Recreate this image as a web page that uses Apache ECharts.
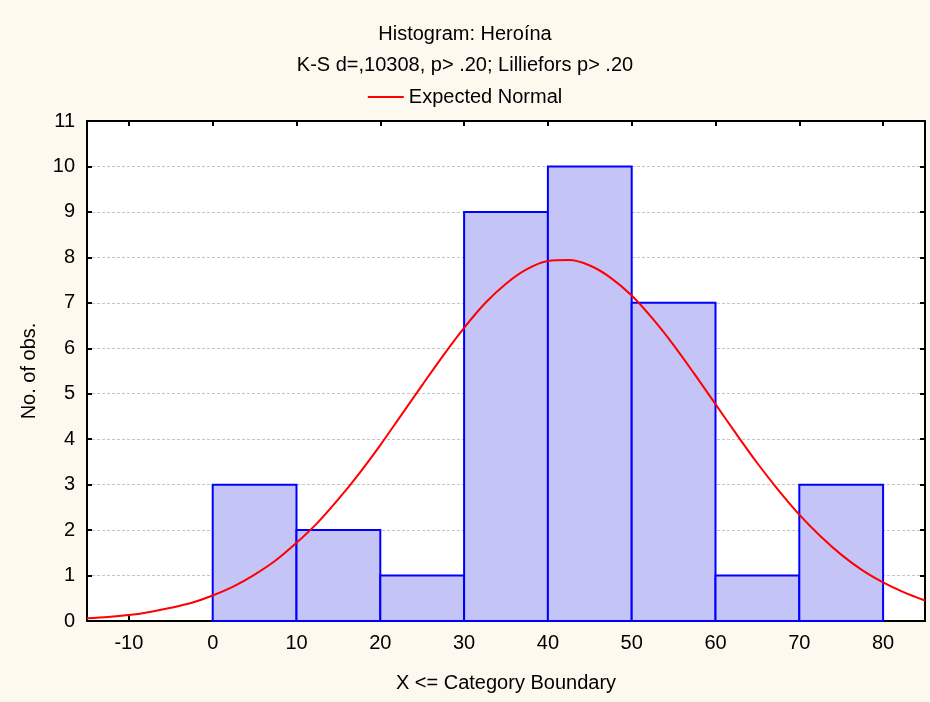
<!DOCTYPE html>
<html>
<head>
<meta charset="utf-8">
<script src="https://cdn.jsdelivr.net/npm/echarts@6/dist/echarts.min.js"></script>
<style>
html,body{margin:0;padding:0;background:#fdf9ef;}
#chart{width:930px;height:702px;}
</style>
</head>
<body>
<div id="chart"></div>
<script>
// Histogram bins: lower bound, upper bound, count
var binLower = [0, 10, 20, 30, 40, 50, 60, 70];
var binUpper = [10, 20, 30, 40, 50, 60, 70, 80];
var binCounts = [3, 2, 1, 9, 10, 7, 1, 3];

// Expected normal curve
var curveX = [-15, -12.5, -10, -7.5, -5, -2.5, 0, 2.5, 5, 7.5, 10, 12.5, 15, 17.5, 20, 22.5, 25, 27.5, 30, 32.5, 35, 37.5, 40, 42.5, 45, 47.5, 50, 52.5, 55, 57.5, 60, 62.5, 65, 67.5, 70, 72.5, 75, 77.5, 80, 82.5, 85];
var curveY = [0.06, 0.09, 0.13, 0.20, 0.29, 0.40, 0.56, 0.76, 1.02, 1.33, 1.72, 2.16, 2.68, 3.25, 3.87, 4.53, 5.19, 5.84, 6.45, 6.99, 7.42, 7.74, 7.92, 7.94, 7.82, 7.55, 7.16, 6.65, 6.07, 5.43, 4.77, 4.11, 3.47, 2.88, 2.34, 1.87, 1.46, 1.12, 0.85, 0.63, 0.45];

var xTicks = [-10, 0, 10, 20, 30, 40, 50, 60, 70, 80];
var yTicks = [0, 1, 2, 3, 4, 5, 6, 7, 8, 9, 10, 11];

var titleText = 'Histogram: Heroína';
var subtitleText = 'K-S d=,10308, p> .20; Lilliefors p> .20';
var seriesName = 'Expected Normal';
var xName = 'X <= Category Boundary';
var yName = 'No. of obs.';

var histData = binLower.map(function (lo, i) { return [lo, binUpper[i], binCounts[i]]; });
var curveData = curveX.map(function (x, i) { return [x, curveY[i]]; });

var font = 'Liberation Sans, Arial, sans-serif';
var fs = 20;
var chart = echarts.init(document.getElementById('chart'));
chart.setOption({
  backgroundColor: '#fdf9ef',
  animation: false,
  title: [
    {text: titleText, left: 'center', top: 19, textStyle: {fontFamily: font, fontSize: fs, fontWeight: 'normal', color: '#000'}},
    {text: subtitleText, left: 'center', top: 50, textStyle: {fontFamily: font, fontSize: fs, fontWeight: 'normal', color: '#000'}}
  ],
  legend: {
    top: 82, left: 'center',
    itemWidth: 36, itemHeight: 2, itemGap: 8,
    textStyle: {fontFamily: font, fontSize: fs, color: '#000'},
    data: [{name: seriesName, icon: 'rect'}]
  },
  grid: {left: 87, right: 5, top: 121, bottom: 81, backgroundColor: '#fff', show: true, borderWidth: 0},
  xAxis: [
    {
      type: 'value', min: -15, max: 85, interval: 5,
      name: xName, nameLocation: 'middle', nameGap: 52,
      nameTextStyle: {fontFamily: font, fontSize: fs, color: '#000'},
      axisLine: {onZero: false, lineStyle: {color: '#000', width: 2}},
      axisTick: {inside: true, length: 5, customValues: xTicks, lineStyle: {color: '#000', width: 2}},
      axisLabel: {fontFamily: font, fontSize: fs, color: '#000', margin: 12, customValues: xTicks},
      splitLine: {show: false}
    },
    {
      type: 'value', min: -15, max: 85, interval: 5, position: 'top',
      axisLine: {show: true, onZero: false, lineStyle: {color: '#000', width: 2}},
      axisTick: {show: true, inside: true, length: 5, customValues: xTicks, lineStyle: {color: '#000', width: 2}},
      axisLabel: {show: false}, splitLine: {show: false}
    }
  ],
  yAxis: [
    {
      type: 'value', min: 0, max: 11, interval: 1,
      name: yName, nameLocation: 'middle', nameGap: 48,
      nameTextStyle: {fontFamily: font, fontSize: fs, color: '#000'},
      axisLine: {show: true, onZero: false, lineStyle: {color: '#000', width: 2}},
      axisTick: {show: true, inside: true, length: 5, lineStyle: {color: '#000', width: 2}},
      axisLabel: {fontFamily: font, fontSize: fs, color: '#000', margin: 12},
      splitLine: {show: true, lineStyle: {color: '#c4c4c4', type: [3, 2], width: 1}}
    },
    {
      type: 'value', min: 0, max: 11, interval: 1, position: 'right',
      axisLine: {show: true, onZero: false, lineStyle: {color: '#000', width: 2}},
      axisTick: {show: true, inside: true, length: 5, lineStyle: {color: '#000', width: 2}},
      axisLabel: {show: false}, splitLine: {show: false}
    }
  ],
  series: [
    {
      type: 'custom',
      name: 'hist',
      data: histData,
      encode: {x: [0, 1], y: 2},
      z: 2,
      renderItem: function (params, api) {
        var p0 = api.coord([api.value(0), api.value(2)]);
        var p1 = api.coord([api.value(1), 0]);
        return {
          type: 'rect',
          shape: {x: p0[0], y: p0[1], width: p1[0] - p0[0], height: p1[1] - p0[1]},
          style: {fill: '#c4c4f6', stroke: '#0000ff', lineWidth: 2}
        };
      }
    },
    {
      type: 'line',
      name: seriesName,
      data: curveData,
      smooth: 0.3,
      showSymbol: false,
      symbol: 'none',
      z: 3,
      color: '#ff0000',
      lineStyle: {color: '#ff0000', width: 2}
    }
  ]
});
</script>
</body>
</html>
